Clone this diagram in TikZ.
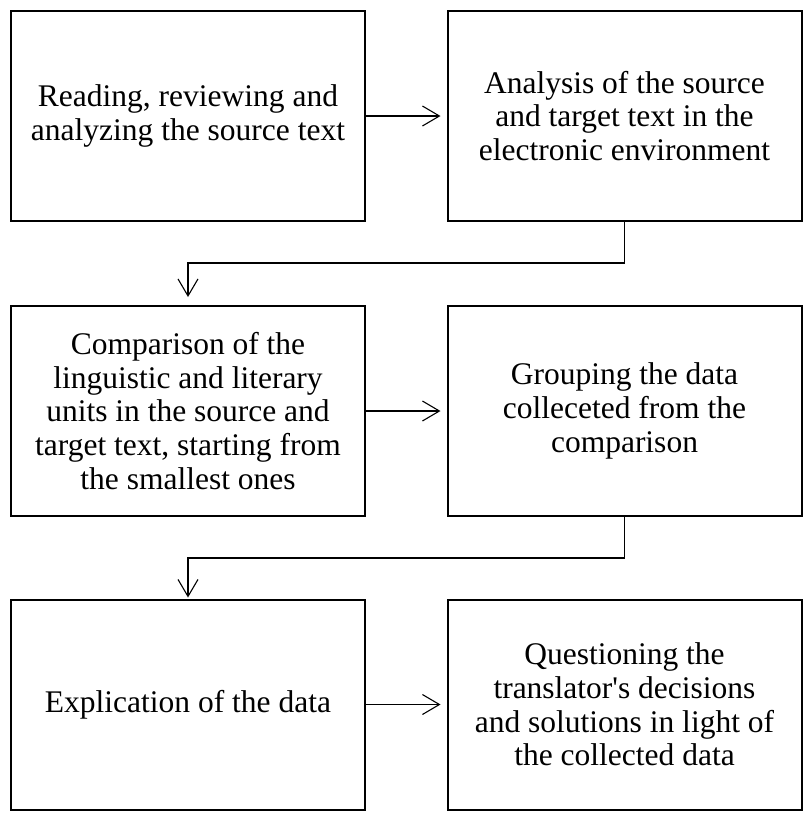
\documentclass[tikz,border=0pt]{standalone}
\usepackage{fontspec}
\setmainfont{Liberation Serif}
\usetikzlibrary{arrows.meta,positioning,calc}

\tikzset{
  stagebox/.style={draw,line width=2pt,minimum width=354pt,minimum height=210pt,
    inner sep=0pt,align=center,font=\fontsize{31.5}{33.8}\selectfont},
  flowarrow/.style={line width=1.1pt,-{Straight Barb[length=17pt,width=20pt,line width=1.1pt]}}
}

\begin{document}
\begin{tikzpicture}[x=1pt,y=-1pt]
 	\useasboundingbox (0,0) rectangle (806,817);
 	% boxes
 	\node[stagebox] (read) at (188,116) {Reading, reviewing and\\analyzing the source text};
 	\node[stagebox] (analysis) at (624.5,116) {Analysis of the source\\and target text in the\\electronic environment};
 	\node[stagebox] (compare) at (188,411) {Comparison of the\\linguistic and literary\\units in the source and\\target text, starting from\\the smallest ones};
 	\node[stagebox] (group) at (624.5,411) {Grouping the data\\colleceted from the\\comparison};
 	\node[stagebox] (explic) at (188,704.5) {Explication of the data};
 	\node[stagebox] (question) at (624.5,704.5) {Questioning the\\translator\textquotesingle s decisions\\and solutions in light of\\the collected data};
 	% connectors
 	\draw[flowarrow,shorten >=6pt] (read) -- (analysis);
 	\draw[flowarrow,shorten >=6pt] (compare) -- (group);
 	\draw[flowarrow,shorten >=6pt] (explic) -- (question);
 	\draw[flowarrow,shorten >=8pt] (analysis.south) -- ++(0,41) -| (compare.north);
 	\draw[flowarrow,shorten >=1pt] (group.south) -- ++(0,41) -| (explic.north);
\end{tikzpicture}
\end{document}
